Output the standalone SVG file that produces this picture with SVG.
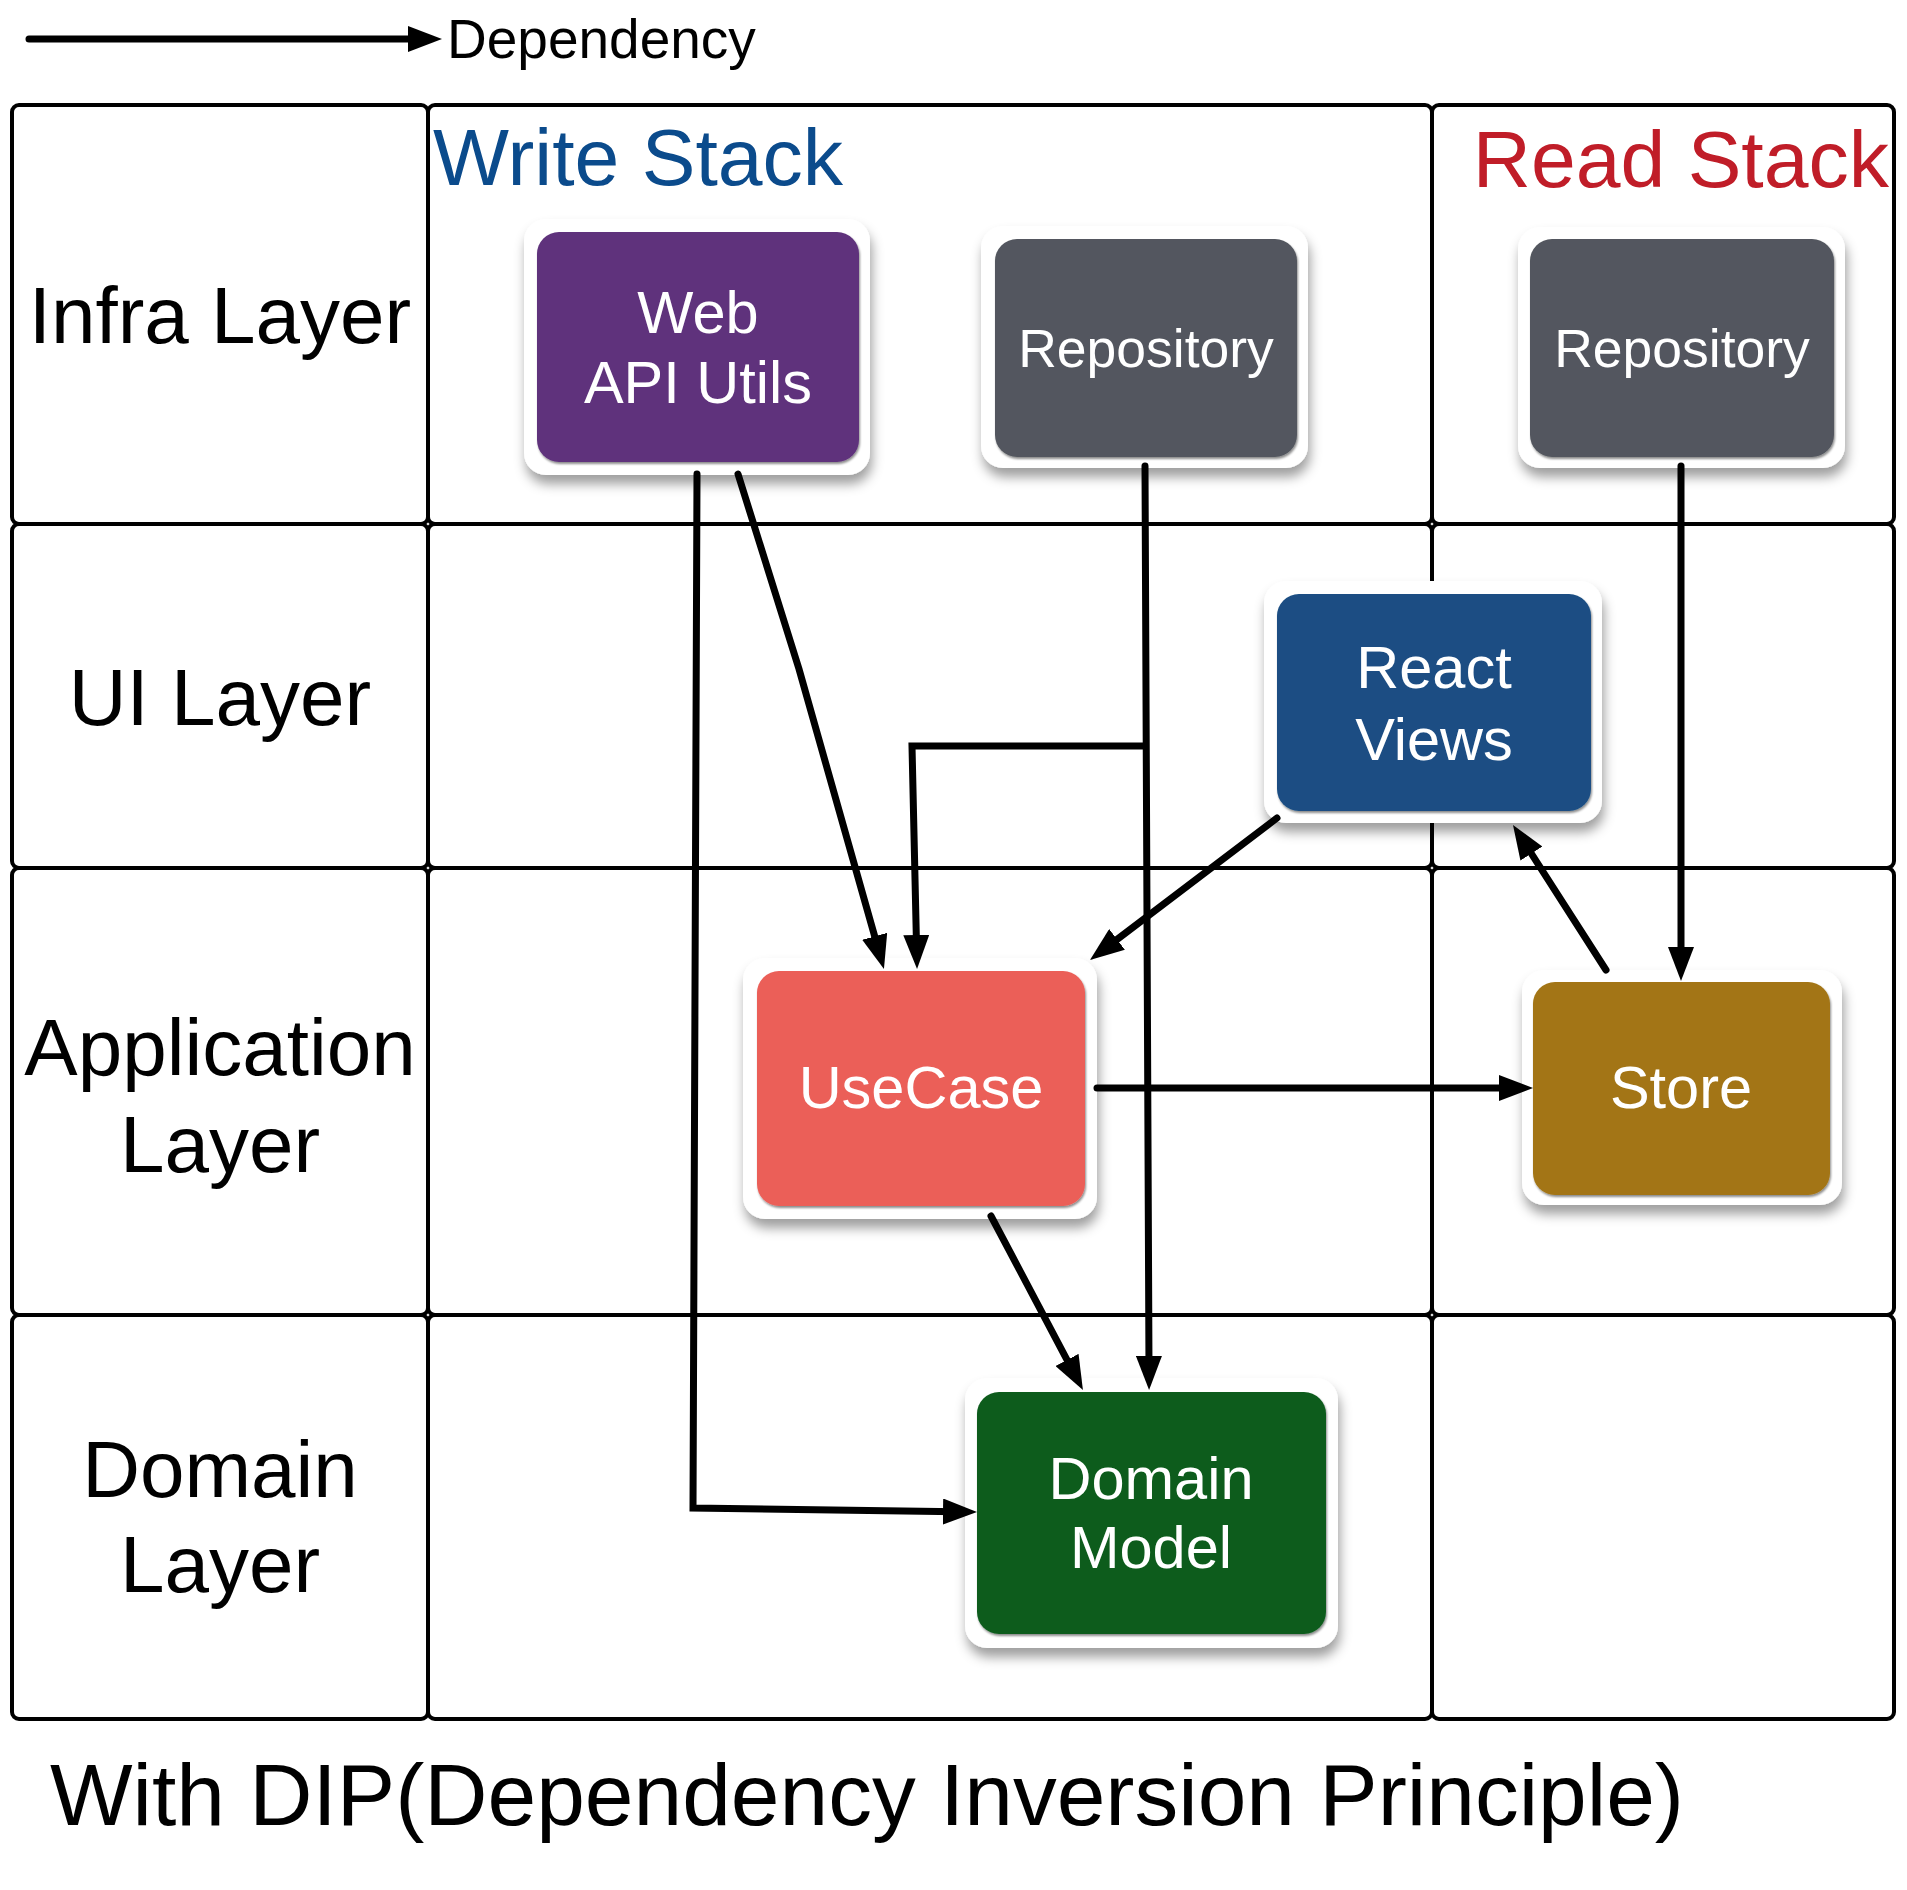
<svg xmlns="http://www.w3.org/2000/svg" width="1907" height="1890" viewBox="0 0 1907 1890">
<style>
.cell{fill:none;stroke:#000;stroke-width:4}
.lbl{font-family:"Liberation Sans",Arial,sans-serif;font-size:80px;fill:#000;text-anchor:middle}
.ntx{font-family:"Liberation Sans",Arial,sans-serif;font-size:59.5px;fill:#fff;text-anchor:middle}
.rep{font-size:53.5px}
.outer{fill:#fff;filter:url(#sh)}
.conn{fill:none;stroke:#000;stroke-width:7;stroke-linecap:round;stroke-linejoin:miter;marker-end:url(#ah)}
</style>
<defs>
<filter id="sh" x="-20%" y="-20%" width="140%" height="150%">
<feDropShadow dx="2" dy="9" stdDeviation="6" flood-color="#000" flood-opacity="0.38"/>
</filter>
<filter id="ish" x="-10%" y="-10%" width="120%" height="120%">
<feDropShadow dx="1" dy="2" stdDeviation="0.8" flood-color="#000" flood-opacity="0.45"/>
</filter>
<marker id="ah" markerUnits="userSpaceOnUse" markerWidth="34" markerHeight="26" refX="14" refY="13" orient="auto">
<path d="M0,0 L34,13 L0,26 z" fill="#000"/>
</marker>
</defs>
<rect width="1907" height="1890" fill="#fff"/>

<g id="legend">
<line class="conn" x1="29" y1="39" x2="422" y2="39"/>
<text x="447" y="58" font-family="Liberation Sans, Arial, sans-serif" font-size="55" fill="#000">Dependency</text>
</g>

<g id="grid">
<rect class="cell" x="12" y="105" width="416" height="419" rx="7"/>
<rect class="cell" x="428" y="105" width="1004" height="419" rx="7"/>
<rect class="cell" x="1432" y="105" width="462" height="419" rx="7"/>
<rect class="cell" x="12" y="524" width="416" height="344" rx="7"/>
<rect class="cell" x="428" y="524" width="1004" height="344" rx="7"/>
<rect class="cell" x="1432" y="524" width="462" height="344" rx="7"/>
<rect class="cell" x="12" y="868" width="416" height="447" rx="7"/>
<rect class="cell" x="428" y="868" width="1004" height="447" rx="7"/>
<rect class="cell" x="1432" y="868" width="462" height="447" rx="7"/>
<rect class="cell" x="12" y="1315" width="416" height="404" rx="7"/>
<rect class="cell" x="428" y="1315" width="1004" height="404" rx="7"/>
<rect class="cell" x="1432" y="1315" width="462" height="404" rx="7"/>
</g>

<g id="layer-labels">
<text class="lbl" x="220" y="343">Infra Layer</text>
<text class="lbl" x="220" y="725">UI Layer</text>
<text class="lbl" x="220" y="1075" font-size="81">Application</text>
<text class="lbl" x="220" y="1172">Layer</text>
<text class="lbl" x="220" y="1497">Domain</text>
<text class="lbl" x="220" y="1592">Layer</text>
</g>

<g id="stack-titles">
<text x="433" y="185" font-family="Liberation Sans, Arial, sans-serif" font-size="80.5" fill="#0b4b8c">Write Stack</text>
<text x="1889" y="187" text-anchor="end" font-family="Liberation Sans, Arial, sans-serif" font-size="80.5" fill="#c01d28">Read Stack</text>
</g>

<g id="node-web">
<rect class="outer" x="524" y="219" width="346" height="256" rx="22"/>
<rect x="537" y="232" width="322" height="230" rx="22" fill="#5e327b" filter="url(#ish)"/>
<text class="ntx" x="698" y="333">Web</text>
<text class="ntx" x="698" y="403">API Utils</text>
</g>

<g id="node-repo-write">
<rect class="outer" x="981" y="226" width="327" height="242" rx="22"/>
<rect x="995" y="239" width="302" height="218" rx="22" fill="#53575e" filter="url(#ish)"/>
<text class="ntx rep" x="1146" y="367">Repository</text>
</g>

<g id="node-repo-read">
<rect class="outer" x="1518" y="227" width="327" height="241" rx="22"/>
<rect x="1530" y="239" width="304" height="218" rx="22" fill="#53575e" filter="url(#ish)"/>
<text class="ntx rep" x="1682" y="367">Repository</text>
</g>

<g id="node-react">
<rect class="outer" x="1264" y="581" width="338" height="242" rx="22"/>
<rect x="1277" y="594" width="314" height="217" rx="22" fill="#1a4e83" filter="url(#ish)"/>
<text class="ntx" x="1434" y="688">React</text>
<text class="ntx" x="1434" y="760">Views</text>
</g>

<g id="node-usecase">
<rect class="outer" x="743" y="958" width="354" height="261" rx="22"/>
<rect x="757" y="971" width="328" height="235" rx="22" fill="#eb5e58" filter="url(#ish)"/>
<text class="ntx" x="921" y="1108">UseCase</text>
</g>

<g id="node-store">
<rect class="outer" x="1522" y="970" width="320" height="235" rx="22"/>
<rect x="1533" y="982" width="297" height="213" rx="22" fill="#a37413" filter="url(#ish)"/>
<text class="ntx" x="1681" y="1108">Store</text>
</g>

<g id="node-domain">
<rect class="outer" x="965" y="1378" width="373" height="270" rx="22"/>
<rect x="977" y="1392" width="349" height="242" rx="22" fill="#0d5c1f" filter="url(#ish)"/>
<text class="ntx" x="1151" y="1499">Domain</text>
<text class="ntx" x="1151" y="1568">Model</text>
</g>

<g id="connectors">
<polyline class="conn" points="738,474 799,669 878.5,949.8"/>
<polyline class="conn" points="1145,746 912,746 916.6,949"/>
<line class="conn" x1="1145" y1="466" x2="1149" y2="1370"/>
<polyline class="conn" points="697,474 693,1508 957,1511.7"/>
<line class="conn" x1="1277" y1="818" x2="1105.9" y2="947.9"/>
<line class="conn" x1="1097" y1="1088" x2="1513" y2="1088"/>
<line class="conn" x1="1681" y1="466" x2="1681" y2="961"/>
<line class="conn" x1="1606" y1="970" x2="1523.8" y2="841.8"/>
<line class="conn" x1="991" y1="1216" x2="1073.6" y2="1372.3"/>
</g>

<text x="50" y="1825" font-family="Liberation Sans, Arial, sans-serif" font-size="87.5" fill="#000">With DIP(Dependency Inversion Principle)</text>
</svg>
